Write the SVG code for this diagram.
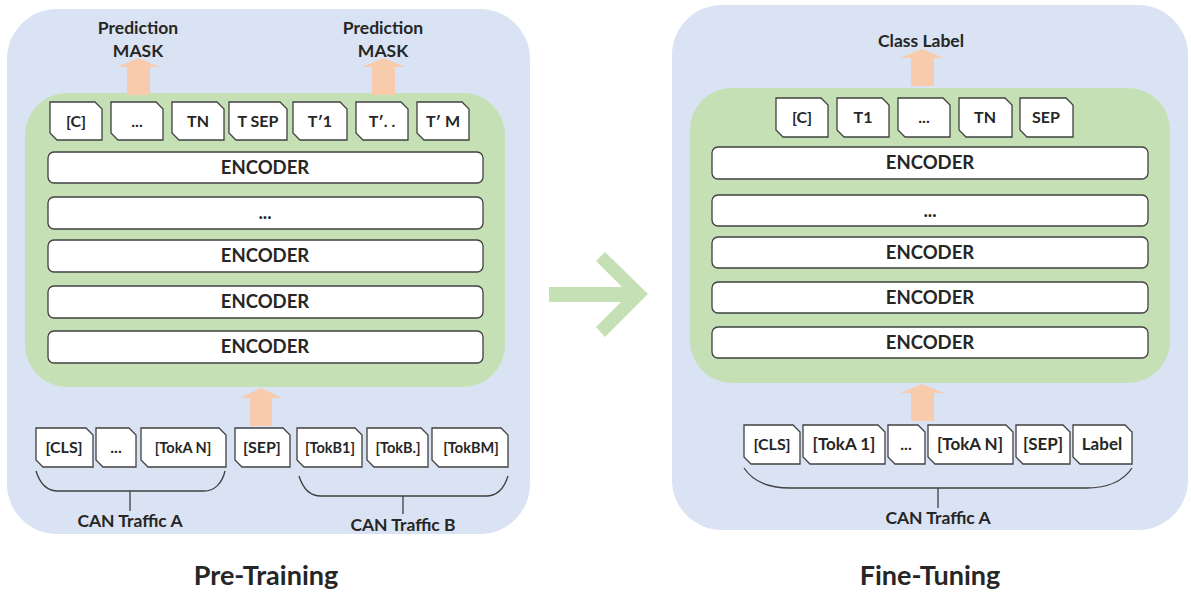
<svg xmlns="http://www.w3.org/2000/svg" width="1191" height="592" viewBox="0 0 1191 592">
<style>
.panel{fill:#dae3f3}
.stack{fill:#c5e0b4}
.tok{fill:#fff;stroke:#404040;stroke-width:1.3;stroke-linejoin:miter}
.enc{fill:#fff;stroke:#404040;stroke-width:1.3}
.blk{fill:#f8cbad}
.brace{fill:none;stroke:#404040;stroke-width:1.3}
text{font-family:Lato,"Open Sans","Liberation Sans",sans-serif;font-weight:bold;fill:#262626;text-anchor:middle}
.t16{font-size:16px}
.t17{font-size:17px}
.t14{font-size:14.5px}
.e{font-size:18.5px}
.lbl{font-size:17.5px}
.title{font-size:27px}
</style>
<rect class="panel" x="7" y="9" width="523" height="525" rx="50"/>
<rect class="panel" x="672" y="5" width="516" height="525" rx="50"/>
<rect class="stack" x="25" y="93" width="480" height="294" rx="42"/>
<rect class="stack" x="690" y="88" width="480" height="295" rx="42"/>

<g id="connectors">
<polygon class="blk" points="138.5,58 160,67 150,67 150,95 127,95 127,67 117,67"/>
<polygon class="blk" points="383.5,58 405,67 395,67 395,95 372,95 372,67 362,67"/>
<polygon class="blk" points="261,388 282,398 272,398 272,426 250,426 250,398 240,398"/>
<polygon class="blk" points="922,49 944,58 934,58 934,86 911,86 911,58 900,58"/>
<polygon class="blk" points="922,384 944,393 934,393 934,421 911,421 911,393 900,393"/>
<polygon fill="#c5e0b4" points="605,252 648,294 605,337 596,327 621,302 549,302 549,287 622,287 596,261"/>
<path class="brace" d="M36,471 C40,484 48,491 58,491 H204 C214,491 222,484 225,471 M130,491 V511"/>
<path class="brace" d="M299,476 C303,489 311,496 321,496 H486 C496,496 504,489 508,476 M403,496 V514"/>
<path class="brace" d="M744,468 C752,480 766,488 790,488 H1086 C1110,488 1124,480 1132,468 M938,488 V508"/>
</g>

<g id="labels">
<text class="lbl" x="138" y="34">Prediction</text>
<text class="lbl" x="138" y="57">MASK</text>
<text class="lbl" x="383" y="34">Prediction</text>
<text class="lbl" x="383" y="57">MASK</text>
<text class="lbl" x="921" y="47">Class Label</text>
<text class="lbl" x="130" y="527">CAN Traffic A</text>
<text class="lbl" x="403" y="531">CAN Traffic B</text>
<text class="lbl" x="938" y="524">CAN Traffic A</text>
<text class="title" x="266" y="585">Pre-Training</text>
<text class="title" x="930" y="585">Fine-Tuning</text>
</g>

<!-- Pre-training output tokens -->
<g id="pt-out-c"><path class="tok" d="M50,102 H95 L102,109 V140 H57 L50,133 Z"/><text class="t16" x="76" y="127">[C]</text></g>
<g id="pt-out-dots"><path class="tok" d="M111,102 H156 L163,109 V140 H118 L111,133 Z"/><text class="t16" x="137" y="127">...</text></g>
<g id="pt-out-tn"><path class="tok" d="M172,102 H217 L224,109 V140 H179 L172,133 Z"/><text class="t16" x="198" y="127">TN</text></g>
<g id="pt-out-tsep"><path class="tok" d="M229,102 H280 L287,109 V140 H236 L229,133 Z"/><text class="t16" x="258" y="127">T SEP</text></g>
<g id="pt-out-t1"><path class="tok" d="M293,102 H340 L347,109 V140 H300 L293,133 Z"/><text class="t16" x="320" y="127">T′1</text></g>
<g id="pt-out-tdots"><path class="tok" d="M356,102 H401 L408,109 V140 H363 L356,133 Z"/><text class="t16" x="382" y="127">T′. .</text></g>
<g id="pt-out-tm"><path class="tok" d="M417,102 H462 L469,109 V140 H424 L417,133 Z"/><text class="t16" x="443" y="127">T′ M</text></g>

<!-- Pre-training encoders -->
<g id="pt-enc1"><rect class="enc" x="48" y="152" width="435" height="31" rx="6"/><text class="e" x="265" y="174">ENCODER</text></g>
<g id="pt-enc2"><rect class="enc" x="48" y="197" width="435" height="32" rx="6"/><text class="e" x="265" y="219">...</text></g>
<g id="pt-enc3"><rect class="enc" x="48" y="240" width="435" height="32" rx="6"/><text class="e" x="265" y="262">ENCODER</text></g>
<g id="pt-enc4"><rect class="enc" x="48" y="286" width="435" height="32" rx="6"/><text class="e" x="265" y="308">ENCODER</text></g>
<g id="pt-enc5"><rect class="enc" x="48" y="331" width="435" height="32" rx="6"/><text class="e" x="265" y="353">ENCODER</text></g>

<!-- Pre-training input tokens -->
<g id="pt-in-cls"><path class="tok" d="M36,428 H86 L93,435 V467 H43 L36,460 Z"/><text class="t16" x="64" y="453">[CLS]</text></g>
<g id="pt-in-dots"><path class="tok" d="M96,428 H129 L136,435 V467 H103 L96,460 Z"/><text class="t16" x="116" y="453">...</text></g>
<g id="pt-in-tokan"><path class="tok" d="M141,428 H219 L226,435 V467 H148 L141,460 Z"/><text class="t14" x="183" y="453">[TokA N]</text></g>
<g id="pt-in-sep"><path class="tok" d="M235,428 H283 L290,435 V467 H242 L235,460 Z"/><text class="t16" x="262" y="453">[SEP]</text></g>
<g id="pt-in-tokb1"><path class="tok" d="M297,428 H355 L362,435 V467 H304 L297,460 Z"/><text class="t14" x="330" y="453">[TokB1]</text></g>
<g id="pt-in-tokbdot"><path class="tok" d="M367,428 H421 L428,435 V467 H374 L367,460 Z"/><text class="t14" x="398" y="453">[TokB.]</text></g>
<g id="pt-in-tokbm"><path class="tok" d="M432,428 H501 L508,435 V467 H439 L432,460 Z"/><text class="t14" x="471" y="453">[TokBM]</text></g>

<!-- Fine-tuning output tokens -->
<g id="ft-out-c"><path class="tok" d="M776,98 H821 L828,105 V137 H783 L776,130 Z"/><text class="t16" x="802" y="123">[C]</text></g>
<g id="ft-out-t1"><path class="tok" d="M837,98 H882 L889,105 V137 H844 L837,130 Z"/><text class="t16" x="863" y="123">T1</text></g>
<g id="ft-out-dots"><path class="tok" d="M898,98 H943 L950,105 V137 H905 L898,130 Z"/><text class="t16" x="924" y="123">...</text></g>
<g id="ft-out-tn"><path class="tok" d="M959,98 H1005 L1012,105 V137 H966 L959,130 Z"/><text class="t16" x="985" y="123">TN</text></g>
<g id="ft-out-sep"><path class="tok" d="M1020,98 H1066 L1073,105 V137 H1027 L1020,130 Z"/><text class="t16" x="1046" y="123">SEP</text></g>

<!-- Fine-tuning encoders -->
<g id="ft-enc1"><rect class="enc" x="712" y="147" width="436" height="32" rx="6"/><text class="e" x="930" y="169">ENCODER</text></g>
<g id="ft-enc2"><rect class="enc" x="712" y="195" width="436" height="31" rx="6"/><text class="e" x="930" y="217">...</text></g>
<g id="ft-enc3"><rect class="enc" x="712" y="237" width="436" height="31" rx="6"/><text class="e" x="930" y="259">ENCODER</text></g>
<g id="ft-enc4"><rect class="enc" x="712" y="282" width="436" height="31" rx="6"/><text class="e" x="930" y="304">ENCODER</text></g>
<g id="ft-enc5"><rect class="enc" x="712" y="327" width="436" height="31" rx="6"/><text class="e" x="930" y="349">ENCODER</text></g>

<!-- Fine-tuning input tokens -->
<g id="ft-in-cls"><path class="tok" d="M744,425 H793 L800,432 V464 H751 L744,457 Z"/><text class="t16" x="772" y="450">[CLS]</text></g>
<g id="ft-in-toka1"><path class="tok" d="M803,425 H878 L885,432 V464 H810 L803,457 Z"/><text class="t17" x="844" y="450">[TokA 1]</text></g>
<g id="ft-in-dots"><path class="tok" d="M888,425 H918 L925,432 V464 H895 L888,457 Z"/><text class="t16" x="906" y="450">...</text></g>
<g id="ft-in-tokan"><path class="tok" d="M928,425 H1006 L1013,432 V464 H935 L928,457 Z"/><text class="t17" x="970" y="450">[TokA N]</text></g>
<g id="ft-in-sep"><path class="tok" d="M1016,425 H1063 L1070,432 V464 H1023 L1016,457 Z"/><text class="t17" x="1043" y="450">[SEP]</text></g>
<g id="ft-in-label"><path class="tok" d="M1073,425 H1125 L1132,432 V464 H1080 L1073,457 Z"/><text class="t17" x="1102" y="450">Label</text></g>
</svg>
